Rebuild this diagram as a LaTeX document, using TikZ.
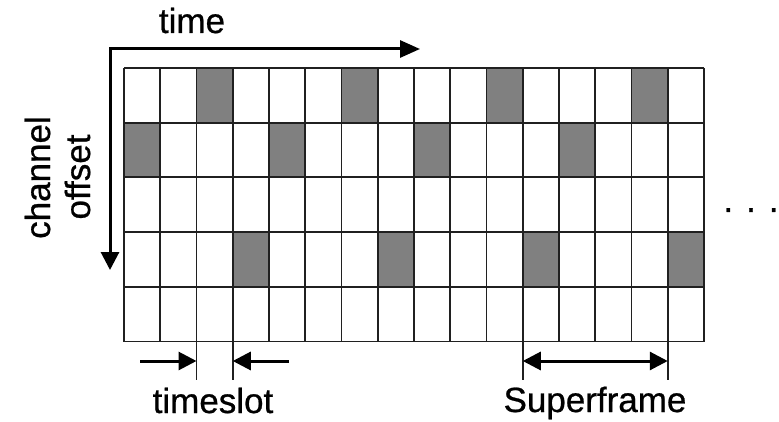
\documentclass[tikz,border=0pt]{standalone}
\usepackage{fontspec}
\setmainfont{Liberation Sans}
\newfontfamily\lblfont{Liberation Sans}[FakeBold=0.7]
\usetikzlibrary{arrows.meta}
\definecolor{slotgray}{HTML}{808080}
\definecolor{linegray}{HTML}{202020}
\begin{document}
\begin{tikzpicture}[x=1pt,y=-1pt,
  gridline/.style={draw=linegray, line width=1.8pt},
  slotfill/.style={fill=slotgray},
  axisline/.style={line width=3pt, draw=black},
  tick/.style={draw=linegray, line width=1.8pt},
  lbl/.style={font=\lblfont\fontsize{35}{40}\selectfont, inner sep=0pt, anchor=base}]
\useasboundingbox (0,0) rectangle (779,422);
\def\gx{124}\def\gy{68}\def\cw{36.25}\def\rh{54.7}
% shaded slots
\foreach \c/\r in {2/0,6/0,10/0,14/0,0/1,4/1,8/1,12/1,3/3,7/3,11/3,15/3}
  \fill[slotfill] (\gx+\c*\cw, \gy+\r*\rh) rectangle ++(\cw,\rh);
% grid
\foreach \c in {0,...,16}
  \draw[gridline] (\gx+\c*\cw, \gy) -- (\gx+\c*\cw, \gy+5*\rh);
\foreach \r in {0,...,5}
  \draw[gridline] (\gx, \gy+\r*\rh) -- (\gx+16*\cw, \gy+\r*\rh);
% axes
\coordinate (corner) at (110,49);
\coordinate (tend) at (420,49);
\coordinate (cend) at (110,270);
\draw[axisline, line join=miter, {Triangle[length=18pt,width=18pt]}-{Triangle[length=20pt,width=17pt]}] (cend) -- (corner) -- (tend);
\node[lbl] (time) at (192,33) {time};
\node[lbl, rotate=90] (chan) at (50,177.5) {channel};
\node[lbl, rotate=90] (offs) at (90,177) {offset};
% timeslot
\coordinate (ts1top) at (\gx+2*\cw, \gy+5*\rh);
\coordinate (ts1bot) at (\gx+2*\cw, 380);
\coordinate (ts2top) at (\gx+3*\cw, \gy+5*\rh);
\coordinate (ts2bot) at (\gx+3*\cw, 380);
\draw[tick] (ts1top) -- (ts1bot);
\draw[tick] (ts2top) -- (ts2bot);
\coordinate (tsl) at (140,361);
\coordinate (tsla) at (\gx+2*\cw,361);
\coordinate (tsr) at (289,361);
\coordinate (tsra) at (\gx+3*\cw,361);
\draw[axisline, -{Triangle[length=18pt,width=18pt]}] (tsl) -- (tsla);
\draw[axisline, -{Triangle[length=18pt,width=18pt]}] (tsr) -- (tsra);
\node[lbl] (tslabel) at (213,413) {timeslot};
% superframe
\coordinate (sf1top) at (\gx+11*\cw, \gy+5*\rh);
\coordinate (sf1bot) at (\gx+11*\cw, 380);
\coordinate (sf2top) at (\gx+15*\cw, \gy+5*\rh);
\coordinate (sf2bot) at (\gx+15*\cw, 380);
\draw[tick] (sf1top) -- (sf1bot);
\draw[tick] (sf2top) -- (sf2bot);
\coordinate (sfa) at (\gx+11*\cw,361);
\coordinate (sfb) at (\gx+15*\cw,361);
\draw[axisline, {Triangle[length=18pt,width=18pt]}-{Triangle[length=18pt,width=18pt]}] (sfa) -- (sfb);
\node[lbl] (sflabel) at (595,412) {Superframe};
% dots
\node[lbl] (dots) at (751,212) {. . .};
\end{tikzpicture}
\end{document}
